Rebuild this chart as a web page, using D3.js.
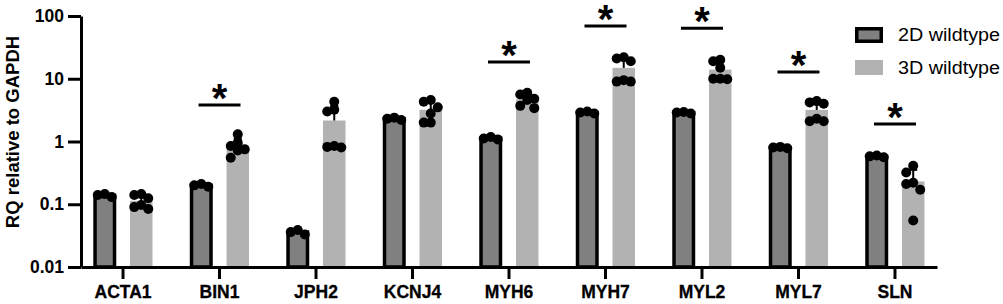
<!DOCTYPE html>
<html>
<head>
<script src="https://d3js.org/d3.v7.min.js"></script>
<style>
  body { margin: 0; background: #fff; }
  text { font-family: "Liberation Sans", Arial, sans-serif; }
</style>
</head>
<body>
<script>
// genes on the x axis
const genes = ["ACTA1", "BIN1", "JPH2", "KCNJ4", "MYH6", "MYH7", "MYL2", "MYL7", "SLN"];
const groups = ["2D wildtype", "3D wildtype"];

// individual replicates
const pts2D = [
  [0.13, 0.14, 0.145], [0.19, 0.2, 0.21], [0.033, 0.036, 0.039],
  [2.2, 2.3, 2.4], [1.08, 1.12, 1.18], [2.8, 2.9, 3.0],
  [2.8, 2.9, 2.95], [0.78, 0.8, 0.82], [0.56, 0.58, 0.6]
];
const pts3D = [
  [0.145, 0.14, 0.125, 0.097, 0.09, 0.084],
  [1.3, 0.95, 0.85, 0.75, 0.72, 0.55],
  [4.3, 3.2, 3.0, 0.85, 0.8, 0.82],
  [4.6, 4.3, 3.5, 2.8, 2.0, 2.0],
  [6.0, 5.6, 4.8, 4.6, 3.7, 3.4],
  [22, 21, 19, 9.5, 9.0, 9.0],
  [20, 19, 15, 10, 10, 9.8],
  [4.4, 4.2, 4.0, 2.3, 2.1, 2.1],
  [0.41, 0.32, 0.22, 0.21, 0.17, 0.055]
];
// height of the significance bar (null = none)
const sigLevel = [null, 3.8, null, null, 18.5, 69, 64, 12.8, 1.9];
const yTicks = [0.01, 0.1, 1, 10, 100];
const yTickLabels = ["0.01", "0.1", "1", "10", "100"];

const width = 1003, height = 304;
const dark = "#808080", light = "#b2b2b2";

const svg = d3.select("body").append("svg")
  .attr("width", width).attr("height", height);

const y = d3.scaleLog().domain([0.01, 100]).range([267, 16]);
const x = d3.scaleBand().domain(genes).range([81, 937])
  .paddingInner(0.389).paddingOuter(0.13);
const xs = d3.scaleBand().domain(groups).range([0, x.bandwidth()]).paddingInner(0.384);

const rows = genes.map((g, i) => ({
  gene: g,
  sig: sigLevel[i],
  sets: [
    { grp: groups[0], vals: pts2D[i] },
    { grp: groups[1], vals: pts3D[i] }
  ]
}));
rows.forEach(r => r.sets.forEach(s => {
  s.mean = d3.mean(s.vals);
  s.sd = d3.deviation(s.vals);
  s.cx = x(r.gene) + xs(s.grp) + xs.bandwidth() / 2;
}));
const sets = rows.flatMap(r => r.sets);

// bars
svg.append("g").selectAll("rect")
  .data(sets)
  .join("rect")
  .attr("x", d => d.grp === groups[0] ? d.cx - xs.bandwidth() / 2 + 1.5 : d.cx - xs.bandwidth() / 2)
  .attr("width", d => d.grp === groups[0] ? xs.bandwidth() - 3 : xs.bandwidth())
  .attr("y", d => y(d.mean))
  .attr("height", d => y(0.01) - y(d.mean))
  .attr("fill", d => d.grp === groups[0] ? dark : light)
  .attr("stroke", d => d.grp === groups[0] ? "#000" : "none")
  .attr("stroke-width", 3.5);

// error bars (upward only)
const err = svg.append("g").attr("stroke", "#000").attr("stroke-width", 2);
err.selectAll("line.v").data(sets).join("line").attr("class", "v")
  .attr("x1", d => d.cx).attr("x2", d => d.cx)
  .attr("y1", d => y(d.mean)).attr("y2", d => y(d.mean + d.sd));
err.selectAll("line.c").data(sets).join("line").attr("class", "c")
  .attr("x1", d => d.cx - 4).attr("x2", d => d.cx + 4)
  .attr("y1", d => y(d.mean + d.sd)).attr("y2", d => y(d.mean + d.sd));

// dots, spread sideways so they don't pile up
function swarm(s) {
  const placed = [];
  const cands = [0, -7, 7, -3.5, 3.5];
  s.vals.slice().sort((a, b) => b - a).forEach(v => {
    const py = y(v);
    let best = null, bestD = -1;
    for (const c of cands) {
      const dmin = placed.length ? d3.min(placed, p => Math.hypot(p.x - (s.cx + c), p.y - py)) : 99;
      if (dmin >= 7.5) { best = c; break; }
      if (dmin > bestD) { bestD = dmin; best = c; }
    }
    placed.push({ x: s.cx + best, y: py });
  });
  return placed;
}
svg.append("g").selectAll("circle")
  .data(sets.flatMap(swarm))
  .join("circle")
  .attr("cx", d => d.x).attr("cy", d => d.y).attr("r", 5)
  .attr("fill", "#000");

// axes
const yAxis = svg.append("g").attr("transform", "translate(81,0)")
  .call(d3.axisLeft(y).tickValues(yTicks).tickFormat((d, i) => yTickLabels[i])
    .tickSize(13).tickSizeOuter(0).tickPadding(4));
const xAxis = svg.append("g").attr("transform", "translate(0,267)")
  .call(d3.axisBottom(x).tickSize(12).tickSizeOuter(0).tickPadding(7));
[yAxis, xAxis].forEach(a => {
  a.selectAll("path, line").attr("stroke", "#000").attr("stroke-width", 3);
  a.selectAll("text").attr("fill", "#000").attr("font-weight", "bold")
    .attr("font-family", "Liberation Sans, Arial, sans-serif").attr("font-size", 17.5);
});
xAxis.selectAll("text").attr("stroke", "#000").attr("stroke-width", 0.3);

svg.append("text")
  .attr("transform", "translate(19," + 132 + ") rotate(-90)")
  .attr("text-anchor", "middle")
  .attr("font-weight", "bold").attr("font-size", 18.5)
  .text("RQ relative to GAPDH");

// significance bars
const sig = rows.filter(r => r.sig != null);
svg.append("g").selectAll("line").data(sig).join("line")
  .attr("x1", d => x(d.gene) + x.bandwidth() / 2 - 21)
  .attr("x2", d => x(d.gene) + x.bandwidth() / 2 + 21)
  .attr("y1", d => y(d.sig)).attr("y2", d => y(d.sig))
  .attr("stroke", "#000").attr("stroke-width", 3);
svg.append("g").selectAll("text").data(sig).join("text")
  .attr("x", d => x(d.gene) + x.bandwidth() / 2)
  .attr("y", d => y(d.sig) + 7)
  .attr("text-anchor", "middle")
  .attr("font-weight", "bold").attr("font-size", 40)
  .text("*");

// legend
const leg = svg.append("g").attr("transform", "translate(855,27)");
groups.forEach((g, i) => {
  const row = leg.append("g").attr("transform", `translate(0,${i * 33})`);
  if (i === 0) {
    row.append("rect").attr("x", 1.75).attr("y", 1.75).attr("width", 24.5).attr("height", 12.5)
      .attr("fill", dark).attr("stroke", "#000").attr("stroke-width", 3.5);
  } else {
    row.append("rect").attr("x", 0).attr("y", 0).attr("width", 28).attr("height", 15)
      .attr("fill", light);
  }
  row.append("text").attr("x", 43).attr("y", 8).attr("dy", "0.35em")
    .attr("font-size", 17.5).attr("textLength", 102).attr("lengthAdjust", "spacingAndGlyphs")
    .text(g);
});
</script>
</body>
</html>
